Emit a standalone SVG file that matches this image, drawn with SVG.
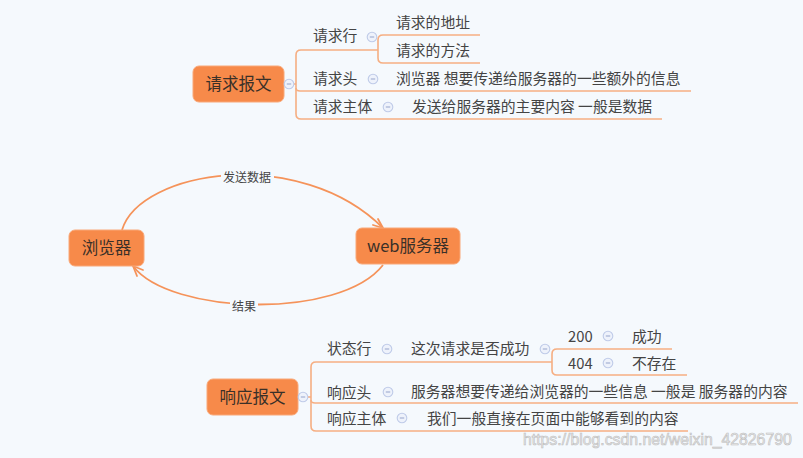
<svg xmlns="http://www.w3.org/2000/svg" width="803" height="458" viewBox="0 0 803 458">
<style>
.bg{fill:#f5f9fd}
.node rect{fill:#f78a4a;stroke:#f9a878;stroke-width:1}
.nt{font-family:"Noto Sans CJK SC","Noto Sans",sans-serif;font-size:16.5px;fill:#3a3028;text-anchor:middle}
.t{font-family:"Noto Sans CJK SC","Noto Sans",sans-serif;font-size:14.8px;fill:#444}
.lbl{font-family:"Noto Sans CJK SC","Noto Sans",sans-serif;font-size:12px;fill:#444;text-anchor:middle}
.br{fill:none;stroke:#f6ae82;stroke-width:1.6}
.arc{fill:none;stroke:#f5935a;stroke-width:1.8}
.ah{fill:none;stroke:#f5935a;stroke-width:1.8;stroke-linecap:round}
.wm{font-family:"Liberation Sans",Arial,sans-serif;font-size:15.8px;fill:#ececec;stroke:#bdbdbd;stroke-width:0.6}
</style>
<defs>
<g id="c"><circle r="4.8" fill="#eef2fb" stroke="#bfcbe8" stroke-width="1.1"/><line x1="-2.2" y1="0" x2="2.2" y2="0" stroke="#9eabd0" stroke-width="1.1"/></g>
</defs>
<rect class="bg" x="0" y="0" width="803" height="458"/>

<g id="connectors">
  <path class="br" d="M294,84 H296"/>
  <path class="br" d="M378,50 H301 Q296,50 296,55 V114 Q296,119 301,119 H662"/>
  <path class="br" d="M296,88 Q296,91 300,91 H691"/>
  <path class="br" d="M480,35 H383 Q378,35 378,40 V58 Q378,63 383,63 H480"/>
  <path class="br" d="M308,397 H311"/>
  <path class="br" d="M552,362 H316 Q311,362 311,367 V426 Q311,431 316,431 H688"/>
  <path class="br" d="M311,400 Q311,403 315,403 H798"/>
  <path class="br" d="M672,349 H557 Q552,349 552,354 V370 Q552,375 557,375 H687"/>
  <path class="arc" d="M122,230 C140,170 300,145 383,228"/>
  <path class="ah" d="M383,228 L373,225 M383,228 L378,219"/>
  <path class="arc" d="M383,265 C340,320 170,315 133,266"/>
  <path class="ah" d="M133,266 L137,276 M133,266 L143,270"/>
  <rect x="221" y="169" width="53" height="16" class="bg"/>
  <text class="lbl" x="247" y="181.5">发送数据</text>
  <rect x="230" y="298" width="28" height="16" class="bg"/>
  <text class="lbl" x="244" y="310.5">结果</text>
</g>

<g id="req" class="node">
  <rect x="193" y="66" width="91" height="36" rx="6"/>
  <text class="nt" x="238.5" y="90">请求报文</text>
</g>
<g id="browser" class="node">
  <rect x="69" y="230" width="75" height="36" rx="6"/>
  <text class="nt" x="106.5" y="254">浏览器</text>
</g>
<g id="server" class="node">
  <rect x="356" y="228" width="104" height="36" rx="6"/>
  <text class="nt" x="408" y="252">web服务器</text>
</g>
<g id="resp" class="node">
  <rect x="207" y="379" width="91" height="36" rx="6"/>
  <text class="nt" x="252.5" y="403">响应报文</text>
</g>

<g id="req-line"><text class="t" x="313" y="40.5">请求行</text></g>
<g id="req-addr"><text class="t" x="396" y="27.5">请求的地址</text></g>
<g id="req-method"><text class="t" x="396" y="55.5">请求的方法</text></g>
<g id="req-head"><text class="t" x="313" y="83.5">请求头</text></g>
<g id="req-head-d"><text class="t" x="396" y="83.5">浏览器 想要传递给服务器的一些额外的信息</text></g>
<g id="req-body"><text class="t" x="313" y="111.5">请求主体</text></g>
<g id="req-body-d"><text class="t" x="412" y="112">发送给服务器的主要内容 一般是数据</text></g>

<g id="st-line"><text class="t" x="327" y="353.5">状态行</text></g>
<g id="st-q"><text class="t" x="411" y="353.5">这次请求是否成功</text></g>
<g id="s200"><text class="t" x="568" y="341.5">200</text></g>
<g id="s200-d"><text class="t" x="632" y="341.5">成功</text></g>
<g id="s404"><text class="t" x="568" y="368.5">404</text></g>
<g id="s404-d"><text class="t" x="632" y="368.5">不存在</text></g>
<g id="resp-head"><text class="t" x="327" y="397.5">响应头</text></g>
<g id="resp-head-d"><text class="t" x="411" y="396.5">服务器想要传递给浏览器的一些信息 一般是 服务器的内容</text></g>
<g id="resp-body"><text class="t" x="327" y="423.5">响应主体</text></g>
<g id="resp-body-d"><text class="t" x="427" y="423.5">我们一般直接在页面中能够看到的内容</text></g>

<g id="collapse">
  <use href="#c" x="289" y="84"/>
  <use href="#c" x="372" y="37"/>
  <use href="#c" x="373" y="79"/>
  <use href="#c" x="388" y="107"/>
  <use href="#c" x="303" y="397"/>
  <use href="#c" x="387" y="349"/>
  <use href="#c" x="545" y="349"/>
  <use href="#c" x="608" y="336"/>
  <use href="#c" x="608" y="363"/>
  <use href="#c" x="388" y="392"/>
  <use href="#c" x="402" y="418"/>
</g>

<text class="wm" x="523" y="445">https://blog.csdn.net/weixin_42826790</text>
</svg>
